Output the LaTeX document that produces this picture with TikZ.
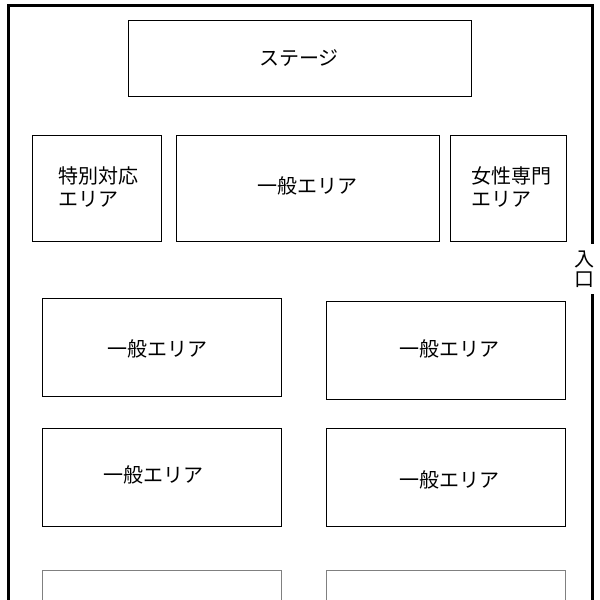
\documentclass[tikz,border=0pt]{standalone}
\usepackage{fontspec}
\setmainfont{Noto Sans CJK JP}
\begin{document}
\begin{tikzpicture}[x=1pt,y=-1pt,
  area/.style={draw=black,line width=1pt},
  gray area/.style={draw=gray,line width=1pt},
  wall/.style={line width=3pt,line cap=rect},
  lbl/.style={font=\fontsize{20}{23}\selectfont,align=left}]
\useasboundingbox (0,0) rectangle (600,600);
\clip (0,0) rectangle (600,600);
% walls
\coordinate (w1) at (8,605); \coordinate (w2) at (8,5);
\coordinate (w3) at (592,5); \coordinate (w4) at (592,242);
\coordinate (w5) at (592,295); \coordinate (w6) at (592,605);
\draw[wall] (w1) -- (w2) -- (w3) -- (w4);
\draw[wall] (w5) -- (w6);
\node[lbl,inner sep=0pt] (ent1) at (584,259) {入};
\node[lbl,inner sep=0pt] (ent2) at (584,280) {口};
% stage
\draw[area] (128,20) rectangle (471,96);
\node[lbl] (stage) at (299,58) {ステージ};
% row 2
\draw[area] (32,135) rectangle (161,241);
\node[lbl] (sp) at (98,187) {特別対応\\エリア};
\draw[area] (176,135) rectangle (439,241);
\node[lbl] (g0) at (307,186) {一般エリア};
\draw[area] (450,135) rectangle (566,241);
\node[lbl] (wo) at (511,187) {女性専門\\エリア};
% row 3
\draw[area] (42,298) rectangle (281,396);
\node[lbl] (g1) at (157,349) {一般エリア};
\draw[area] (326,301) rectangle (565,399);
\node[lbl] (g2) at (449,349) {一般エリア};
% row 4
\draw[area] (42,428) rectangle (281,526);
\node[lbl] (g3) at (153,475) {一般エリア};
\draw[area] (326,428) rectangle (565,526);
\node[lbl] (g4) at (449,480) {一般エリア};
% row 5
\draw[gray area] (42,570) rectangle (281,640);
\draw[gray area] (326,570) rectangle (565,640);
\end{tikzpicture}
\end{document}
